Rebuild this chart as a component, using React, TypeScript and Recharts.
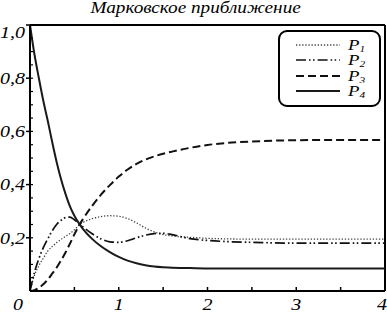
import React from 'react';
import { LineChart, Line, XAxis, YAxis, ReferenceLine, Legend } from 'recharts';

const chartTitle = 'Марковское приближение';
const tValues = [0, 0.05, 0.1, 0.15, 0.2, 0.25, 0.3, 0.35, 0.4, 0.45, 0.5, 0.55, 0.6, 0.7, 0.8, 0.9, 1.0, 1.1, 1.2, 1.3, 1.4, 1.5, 1.6, 1.8, 2.0, 2.2, 2.5, 3.0, 3.5, 4.0];
const p1Values = [0, 0.058, 0.095, 0.123, 0.15, 0.167, 0.182, 0.194, 0.205, 0.216, 0.23, 0.247, 0.258, 0.272, 0.28, 0.283, 0.281, 0.272, 0.256, 0.237, 0.222, 0.212, 0.207, 0.202, 0.198, 0.196, 0.195, 0.195, 0.195, 0.195];
const p2Values = [0, 0.07, 0.122, 0.163, 0.196, 0.226, 0.25, 0.266, 0.276, 0.278, 0.268, 0.254, 0.24, 0.215, 0.196, 0.185, 0.183, 0.189, 0.2, 0.21, 0.216, 0.217, 0.212, 0.197, 0.19, 0.186, 0.183, 0.18, 0.18, 0.18];
const p3Values = [0, 0.003, 0.012, 0.025, 0.043, 0.065, 0.088, 0.115, 0.145, 0.178, 0.213, 0.245, 0.272, 0.32, 0.362, 0.398, 0.43, 0.457, 0.478, 0.494, 0.506, 0.516, 0.524, 0.538, 0.549, 0.556, 0.562, 0.567, 0.568, 0.568];
const p4Values = [1, 0.89, 0.8, 0.715, 0.64, 0.56, 0.485, 0.42, 0.365, 0.318, 0.283, 0.255, 0.232, 0.196, 0.168, 0.146, 0.128, 0.114, 0.104, 0.097, 0.092, 0.089, 0.087, 0.086, 0.085, 0.085, 0.085, 0.085, 0.085, 0.085];

const seriesKeys = ['p1', 'p2', 'p3', 'p4'];
const seriesSubscripts = ['1', '2', '3', '4'];

const xTicks = [0, 0.5, 1, 1.5, 2, 2.5, 3, 3.5, 4];
const xLabelTicks = [0, 1, 2, 3, 4];
const yTicks = [0, 0.05, 0.1, 0.15, 0.2, 0.25, 0.3, 0.35, 0.4, 0.45, 0.5, 0.55, 0.6, 0.65, 0.7, 0.75, 0.8, 0.85, 0.9, 0.95, 1];
const yLabelTicks = [0.2, 0.4, 0.6, 0.8, 1];

const data = tValues.map((t, i) => ({
  t,
  p1: p1Values[i],
  p2: p2Values[i],
  p3: p3Values[i],
  p4: p4Values[i],
}));

const FONT = '"Liberation Serif", "Times New Roman", serif';
const SX = 1.25;

const styles: Record<string, { dash?: string; width: number; color: string }> = {
  p1: { dash: '1.3 1.8', width: 1.3, color: '#444' },
  p2: { dash: '10 3 1.6 2.4 1.6 3', width: 1.7, color: '#111' },
  p3: { dash: '8 4', width: 2, color: '#111' },
  p4: { width: 2, color: '#1a1a1a' },
};

const near = (a: number, list: number[]) => list.some((v) => Math.abs(v - a) < 1e-6);

const YTick = (props: any) => {
  const { x, y, payload } = props;
  const v = payload.value;
  if (!near(v, yLabelTicks)) return <g />;
  const label = v.toFixed(1).replace('.', ',');
  const dyShift = v > 0.99 ? 7 : 0;
  return (
    <g>
      <line x1={x + 1} x2={x + 5} y1={y} y2={y} stroke="#000" strokeWidth={1.5} />
      <text
        transform={`translate(${x},${y + dyShift}) scale(${SX},1)`}
        x={0}
        y={0}
        dy="0.36em"
        textAnchor="end"
        fontFamily={FONT}
        fontStyle="italic"
        fontSize={16}
        fill="#000"
      >
        {label}
      </text>
    </g>
  );
};

const XTick = (props: any) => {
  const { x, y, payload } = props;
  const v = payload.value;
  if (!near(v, xLabelTicks)) return <g />;
  let shift = 0;
  if (v === 0) shift = -12;
  if (v === 4) shift = -3;
  return (
    <text
      transform={`translate(${x + shift},${y + 23}) scale(${SX},1)`}
      x={0}
      y={0}
      textAnchor="middle"
      fontFamily={FONT}
      fontStyle="italic"
      fontSize={16}
      fill="#000"
    >
      {String(v)}
    </text>
  );
};

const LegendBox = (props: any) => {
  const payload = props.payload || [];
  return (
    <div
      style={{
        width: 103,
        height: 77,
        boxSizing: 'border-box',
        border: '2px solid #000',
        borderRadius: 9,
        background: '#fff',
        position: 'relative',
      }}
    >
      {payload.map((entry: any, i: number) => {
        const key = entry.dataKey as string;
        const st = styles[key];
        const idx = seriesKeys.indexOf(key);
        const cy = 13 + i * 15.3;
        return (
          <div key={key} style={{ position: 'absolute', left: 0, top: cy - 7, height: 14, width: 101 }}>
            <svg width={50} height={14} style={{ position: 'absolute', left: 16, top: 0 }}>
              <line x1={0} x2={44} y1={7} y2={7} stroke={st.color} strokeWidth={st.width} strokeDasharray={st.dash} />
            </svg>
            <div
              style={{
                position: 'absolute',
                left: 68,
                top: 0,
                height: 14,
                lineHeight: '14px',
                fontFamily: FONT,
                fontStyle: 'italic',
                fontSize: 15,
                transform: `scale(${SX},1)`,
                transformOrigin: 'left center',
                whiteSpace: 'nowrap',
              }}
            >
              P
              <span style={{ fontSize: 9, lineHeight: '9px', position: 'relative', top: 2 }}>{seriesSubscripts[idx]}</span>
            </div>
          </div>
        );
      })}
    </div>
  );
};

export default function App() {
  return (
    <div style={{ position: 'relative', width: 387, height: 315, background: '#fff', overflow: 'hidden' }}>
      <style>{`body{margin:0;background:#fff}`}</style>
      <div
        style={{
          position: 'absolute',
          left: 0,
          top: 0,
          width: 387,
          textAlign: 'center',
          fontFamily: FONT,
          fontStyle: 'italic',
          fontSize: 16,
          lineHeight: '16px',
          zIndex: 2,
        }}
      >
        <span style={{ display: 'inline-block', transform: `scale(1.2,1)`, transformOrigin: 'center', marginLeft: 4 }}>
          {chartTitle}
        </span>
      </div>
      <LineChart width={387} height={315} data={data} margin={{ top: 25, right: 2, bottom: 0, left: 0 }}>
        <XAxis
          dataKey="t"
          type="number"
          domain={[0, 4]}
          ticks={xTicks}
          interval={0}
          height={24}
          tickSize={-4}
          tickMargin={0}
          axisLine={{ stroke: '#000', strokeWidth: 2 }}
          tickLine={{ stroke: '#000', strokeWidth: 1.5 }}
          tick={<XTick />}
        />
        <YAxis
          type="number"
          domain={[0, 1]}
          ticks={yTicks}
          interval={0}
          width={30}
          tickSize={-3}
          tickMargin={8}
          axisLine={{ stroke: '#000', strokeWidth: 2 }}
          tickLine={{ stroke: '#000', strokeWidth: 1.2 }}
          tick={<YTick />}
        />
        <ReferenceLine y={1} stroke="#000" strokeWidth={2} />
        <ReferenceLine x={4} stroke="#000" strokeWidth={2} />
        {seriesKeys.map((k) => (
          <Line
            key={k}
            dataKey={k}
            type="monotone"
            stroke={styles[k].color}
            strokeWidth={styles[k].width}
            strokeDasharray={styles[k].dash}
            dot={false}
            activeDot={false}
            isAnimationActive={false}
          />
        ))}
        <Legend
          layout="vertical"
          align="center"
          verticalAlign="middle"
          wrapperStyle={{ position: 'absolute', left: 278, top: 30, width: 103, height: 77 }}
          content={<LegendBox />}
        />
      </LineChart>
    </div>
  );
}
